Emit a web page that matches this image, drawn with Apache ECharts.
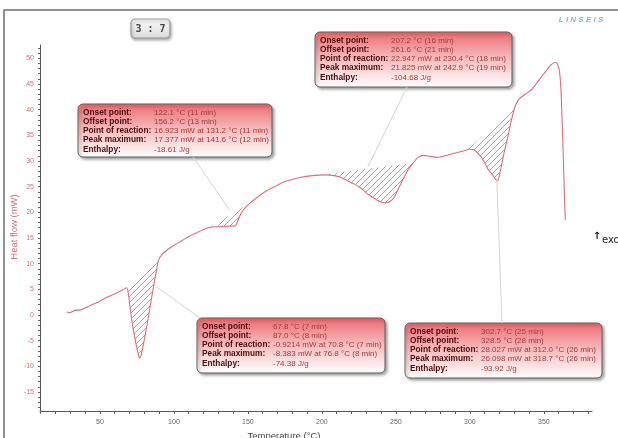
<!DOCTYPE html>
<html>
<head>
<meta charset="utf-8">
<script src="https://cdn.jsdelivr.net/npm/echarts@6/dist/echarts.min.js"></script>
<style>html,body{margin:0;padding:0;background:#fff}#c{width:618px;height:438px}</style>
</head>
<body>
<div id="c"></div>
<script>
// ---- data ----
const curveT = [27.5,30,33,37,43,50,55,62,66,68.2,69.5,70.8,72.5,74.5,76,76.8,78,80,82,84,86,88,89.5,92,96,100,105,110,115,122.1,127,131.2,136,141.6,144,147,151,156.2,162,168,175,185,195,203,207.2,212,217,222,226,230.4,235,239,242.9,246,249,252,255,258,261.6,265,269,273,278,283,289,295,300,302.7,306,309,312,315,318.7,320.5,323,326,328.5,331,334,338,342,346,350,354,357.4,359,360.5,361.5,362.3,363.2,364,364.5];
const curveHF = [0.6,0.5,0.9,1.0,1.8,2.7,3.5,4.4,5.0,5.3,3.5,0.5,-2.8,-5.8,-7.7,-8.38,-7.6,-4.8,-1.6,1.8,5.2,8.4,10.6,11.8,12.8,13.6,14.4,15.3,16.0,16.9,17.2,17.2,17.3,17.38,19.0,20.5,21.7,22.9,24.1,25.0,26.0,26.8,27.2,27.3,27.2,26.9,26.2,25.5,24.8,23.7,22.8,22.1,21.83,22.1,23.0,24.8,26.5,28.2,29.6,30.7,31.1,30.9,30.7,31.0,31.5,31.9,32.3,32.2,31.3,30.2,28.5,27.4,26.1,28.0,31.5,35.2,38.5,41.0,42.3,43.1,44.0,45.5,47.0,48.5,49.2,49.0,47.5,44.0,38.0,30.0,22.0,18.5];
const xTickLabels = [50,100,150,200,250,300,350];
const yTickLabels = [-15,-10,-5,0,5,10,15,20,25,30,35,40,45,50];
const hatchStart = [68.2,123.2,195,298];
const hatchEnd = [89.4,151.8,261.7,330.4];
const leaderTarget = [[88,5.5],[138,20.3],[231,28.8],[318.2,26.3]];
const rowLabels = ["Onset point:","Offset point:","Point of reaction:","Peak maximum:","Enthalpy:"];
const peak1Values = ["67.8 °C (7 min)","87.0 °C (8 min)","-0.9214 mW at 70.8 °C (7 min)","-8.383 mW at 76.8 °C (8 min)","-74.38 J/g"];
const peak2Values = ["122.1 °C (11 min)","156.2 °C (13 min)","16.923 mW at 131.2 °C (11 min)","17.377 mW at 141.6 °C (12 min)","-18.61 J/g"];
const peak3Values = ["207.2 °C (16 min)","261.6 °C (21 min)","22.947 mW at 230.4 °C (18 min)","21.825 mW at 242.9 °C (19 min)","-104.68 J/g"];
const peak4Values = ["302.7 °C (25 min)","328.5 °C (28 min)","28.027 mW at 312.0 °C (26 min)","26.098 mW at 318.7 °C (26 min)","-93.92 J/g"];
const sampleLabel = "3 : 7";

// ---- layout (pixels) ----
const boxLayout = [
  {x:197,y:318,w:188,h:55,ax:200,ay:318},
  {x:78,y:104,w:194,h:53,ax:193,ay:157},
  {x:315,y:32,w:197,h:55,ax:407,ay:87},
  {x:405,y:323,w:197,h:55,ax:502,ay:323}
];
const peakValues = [peak1Values,peak2Values,peak3Values,peak4Values];

function interp(t){
  for(let k=0;k<curveT.length-1;k++){
    if(t>=curveT[k] && t<=curveT[k+1]){
      const f=(t-curveT[k])/(curveT[k+1]-curveT[k]);
      return curveHF[k]+f*(curveHF[k+1]-curveHF[k]);
    }
  }
  return curveHF[curveHF.length-1];
}

const pc = document.createElement('canvas');
pc.width=6; pc.height=6;
const g = pc.getContext('2d');
g.strokeStyle='#8a8a8a'; g.lineWidth=0.8;
g.beginPath(); g.moveTo(-1,7); g.lineTo(7,-1); g.stroke();
g.beginPath(); g.moveTo(-1,1); g.lineTo(1,-1); g.stroke();
g.beginPath(); g.moveTo(5,7); g.lineTo(7,5); g.stroke();
const hatchPattern = {image: pc, repeat: 'repeat'};

const ints = (a,b,s)=>{const r=[];for(let v=a;v<=b;v+=s)r.push(v);return r;};

const chart = echarts.init(document.getElementById('c'), null, {renderer:'canvas'});
const font = '"Liberation Sans", Arial, sans-serif';

chart.setOption({
  animation:false,
  grid:{left:40,right:26,top:45,bottom:27},
  xAxis:{
    type:'value', min:9.5, max:382.5,
    axisLine:{show:true,onZero:false,lineStyle:{color:'#555',width:1}},
    axisTick:{show:true,customValues:ints(10,380,10),length:3,lineStyle:{color:'#666'}},
    axisLabel:{customValues:xTickLabels,color:'#666',fontSize:7,margin:8,fontFamily:font},
    splitLine:{show:false}
  },
  yAxis:{
    type:'value', min:-18.7, max:52.6,
    axisLine:{show:true,onZero:false,lineStyle:{color:'#555',width:1}},
    axisTick:{show:true,customValues:ints(-18,52,1),length:2,lineStyle:{color:'#666'}},
    axisLabel:{customValues:yTickLabels,color:'#d0707a',fontSize:7,margin:6,fontFamily:font},
    splitLine:{show:false}
  },
  series:[
    {
      type:'custom', silent:true, z:1,
      data: hatchStart.map((s,i)=>[s,i]),
      renderItem:function(params, api){
        const i = params.dataIndex;
        const s = hatchStart[i], e = hatchEnd[i];
        const pts = [[s,interp(s)]];
        curveT.forEach((t,k)=>{ if(t>s && t<e) pts.push([t,curveHF[k]]); });
        pts.push([e,interp(e)]);
        return {type:'polygon', shape:{points: pts.map(p=>api.coord(p))}, style:{fill: hatchPattern, stroke:null}};
      }
    },
    {
      type:'line', z:3, showSymbol:false, smooth:0.2,
      data: curveT.map((t,i)=>[t,curveHF[i]]),
      lineStyle:{color:'#dc6f78',width:1.1}
    }
  ]
});

const graphics = [];
graphics.push({type:'rect', shape:{x:4,y:10,width:700,height:500}, style:{fill:null, stroke:'#6e6e6e', lineWidth:1.5}, silent:true, z:0});
// leader lines
boxLayout.forEach((b,i)=>{
  const p = chart.convertToPixel({gridIndex:0}, leaderTarget[i]);
  graphics.push({type:'line', shape:{x1:b.ax,y1:b.ay,x2:p[0],y2:p[1]}, style:{stroke:'#d4d4d4',lineWidth:1}, z:5, silent:true});
});
// annotation boxes
boxLayout.forEach((b,i)=>{
  const children = [{
    type:'rect', shape:{x:0,y:0,width:b.w,height:b.h,r:5},
    style:{
      fill:{type:'linear',x:0,y:0,x2:0,y2:1,colorStops:[{offset:0,color:'#ec6a70'},{offset:0.45,color:'#f6b6b8'},{offset:1,color:'#ffffff'}]},
      stroke:'#5e5e5e', lineWidth:1,
      shadowBlur:3, shadowOffsetX:2, shadowOffsetY:2, shadowColor:'rgba(0,0,0,0.35)'
    }
  }];
  rowLabels.forEach((lab,r)=>{
    const yy = 8.5 + r*9.2;
    children.push({type:'text', x:5, y:yy, style:{text:lab, fill:'#4a0c0c', font:'bold 8.3px '+font, verticalAlign:'middle', align:'left'}});
    children.push({type:'text', x:76, y:yy, style:{text:peakValues[i][r], fill:'#9c3b3b', font:'8px '+font, verticalAlign:'middle', align:'left'}});
  });
  graphics.push({type:'group', x:b.x, y:b.y, z:10, children:children, silent:true});
});
// sample label box
graphics.push({type:'group', x:131, y:19, z:10, silent:true, children:[
  {type:'rect', shape:{x:0,y:0,width:39,height:19,r:4}, style:{fill:{type:'linear',x:0,y:0,x2:0,y2:1,colorStops:[{offset:0,color:'#fafafa'},{offset:1,color:'#dcdcdc'}]}, stroke:'#9a9a9a', lineWidth:1.2, shadowBlur:3, shadowOffsetX:1, shadowOffsetY:2, shadowColor:'rgba(0,0,0,0.3)'}},
  {type:'text', x:19.5, y:10, style:{text:sampleLabel, fill:'#444', font:'bold 10px "DejaVu Sans Mono", monospace', align:'center', verticalAlign:'middle'}}
]});
// logo
graphics.push({type:'text', x:581, y:20, z:10, silent:true, style:{text:'L I N S E I S', fill:'#82b4d6', font:'italic bold 8px '+font, align:'center', verticalAlign:'middle'}});
// exo marker
graphics.push({type:'text', x:597, y:236, z:10, silent:true, style:{text:'↑', fill:'#111', font:'bold 10px "DejaVu Sans"', align:'center', verticalAlign:'middle'}});
graphics.push({type:'text', x:602, y:240, z:10, silent:true, style:{text:'exo', fill:'#222', font:'10px "DejaVu Sans"', align:'left', verticalAlign:'middle'}});
// axis names
graphics.push({type:'text', x:284, y:436, z:10, silent:true, style:{text:'Temperature (°C)', fill:'#444', font:'9.5px '+font, align:'center', verticalAlign:'middle'}});
graphics.push({type:'text', x:14, y:227, rotation:Math.PI/2, z:10, silent:true, style:{text:'Heat flow (mW)', fill:'#d0707a', font:'9.5px '+font, align:'center', verticalAlign:'middle'}});

chart.setOption({graphic: graphics});
</script>
</body>
</html>
